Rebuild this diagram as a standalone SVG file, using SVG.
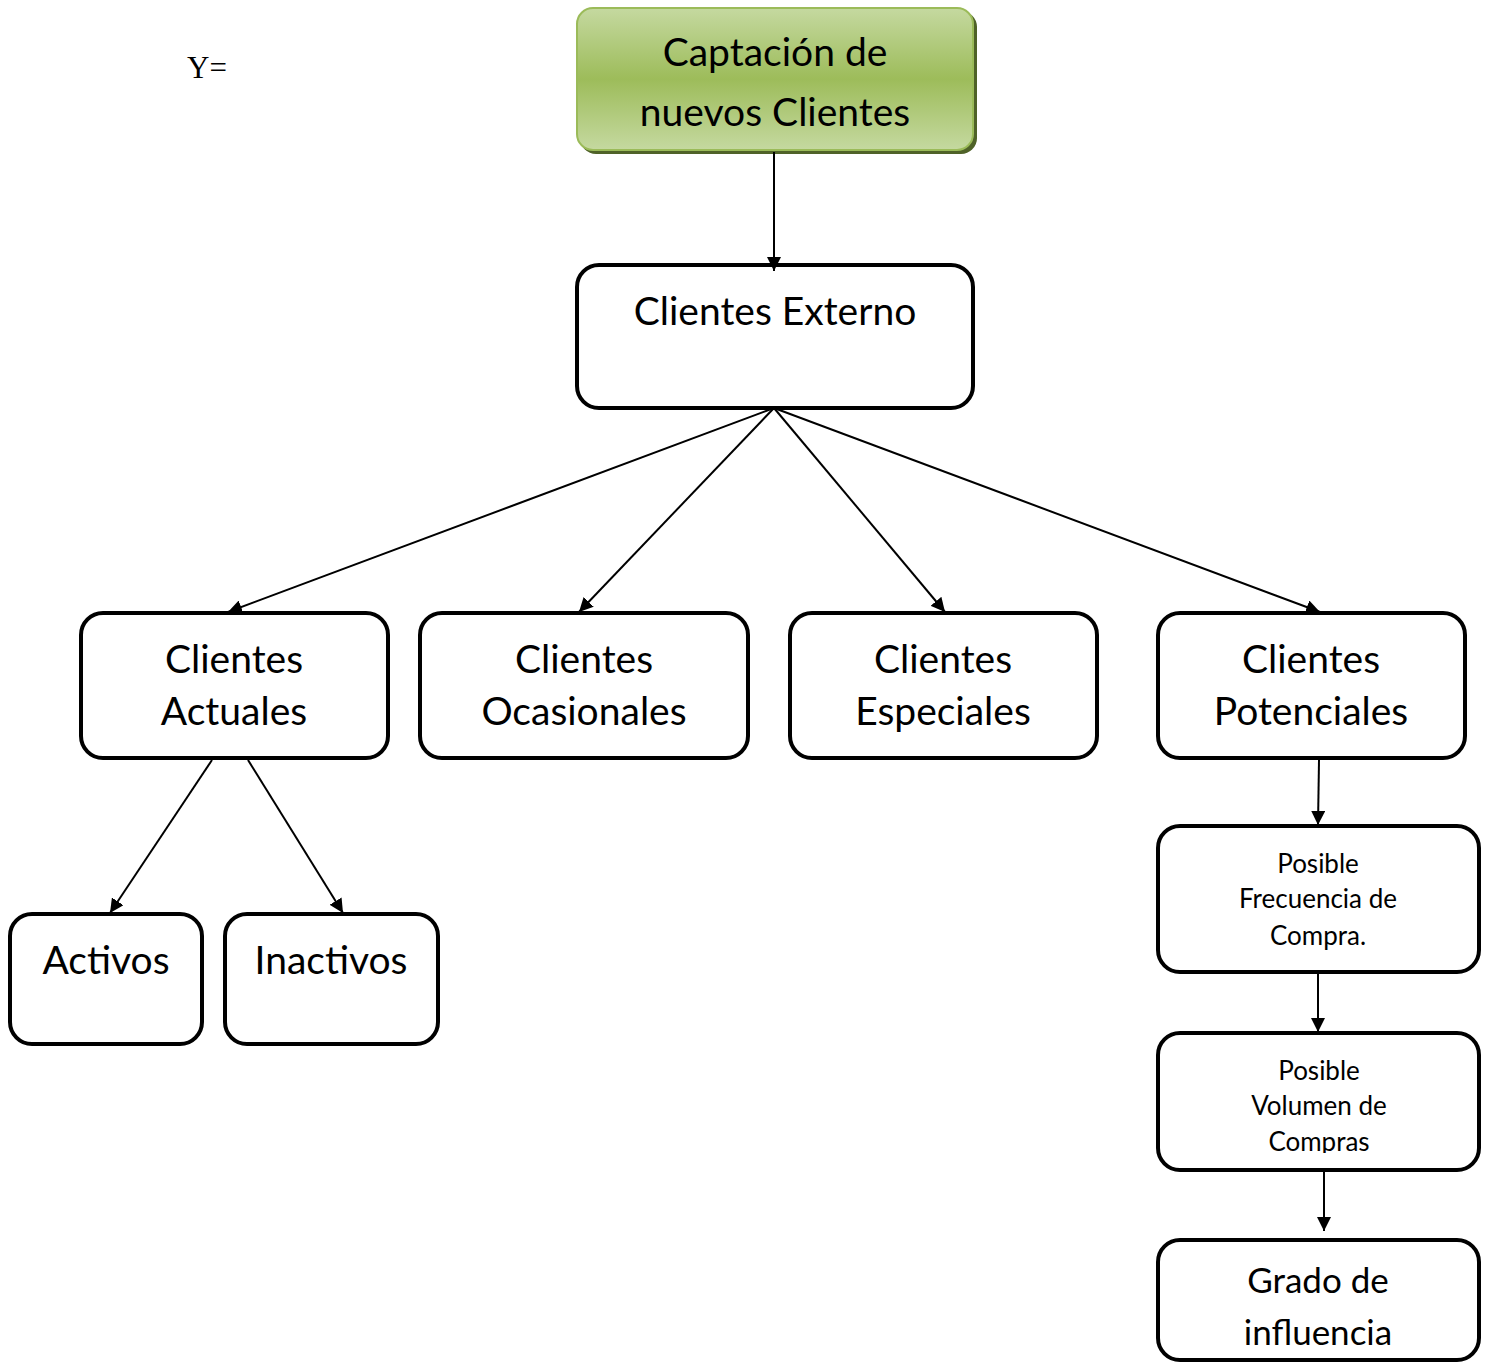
<svg xmlns="http://www.w3.org/2000/svg" width="1485" height="1363" viewBox="0 0 1485 1363">
<style>
.box{fill:#fff;stroke:#000;stroke-width:4}
.t{font-family:Lato,"Open Sans","Liberation Sans",sans-serif;fill:#000;text-anchor:middle}
.big{font-size:39px}
.sm{font-size:26px}
.conn line{stroke:#000;stroke-width:2;marker-end:url(#ah)}
</style>
<defs>
<marker id="ah" viewBox="0 0 10 10" refX="10" refY="5" markerWidth="7" markerHeight="7" orient="auto" markerUnits="strokeWidth">
<path d="M0,0 L10,5 L0,10 z" fill="#000"/>
</marker>
<linearGradient id="g" x1="0" y1="0" x2="0" y2="1">
<stop offset="0" stop-color="#c5d9a0"/>
<stop offset="0.5" stop-color="#9dbc5a"/>
<stop offset="1" stop-color="#c5d9a0"/>
</linearGradient>
<clipPath id="cv"><rect x="1158" y="1033" width="322" height="120"/></clipPath>
</defs>
<rect width="1485" height="1363" fill="#fff"/>
<text x="187" y="78" font-family="Liberation Serif,serif" font-size="31">Y=</text>
<g id="captacion">
<rect x="580" y="11" width="397" height="143" rx="16" fill="#4f6228"/>
<rect x="577" y="8" width="396" height="142" rx="16" fill="url(#g)" stroke="#9bbb59" stroke-width="2"/>
<text class="t big" x="775" y="66">Captación de</text>
<text class="t big" x="775" y="126">nuevos Clientes</text>
</g>
<g id="externo">
<rect class="box" x="577" y="265" width="396" height="143" rx="22"/>
<text class="t big" x="775" y="325">Clientes Externo</text>
</g>
<g id="actuales">
<rect class="box" x="81" y="613" width="307" height="145" rx="22"/>
<text class="t big" x="234" y="673">Clientes</text>
<text class="t big" x="234" y="725">Actuales</text>
</g>
<g id="ocasionales">
<rect class="box" x="420" y="613" width="328" height="145" rx="22"/>
<text class="t big" x="584" y="673">Clientes</text>
<text class="t big" x="584" y="725">Ocasionales</text>
</g>
<g id="especiales">
<rect class="box" x="790" y="613" width="307" height="145" rx="22"/>
<text class="t big" x="943" y="673">Clientes</text>
<text class="t big" x="943" y="725">Especiales</text>
</g>
<g id="potenciales">
<rect class="box" x="1158" y="613" width="307" height="145" rx="22"/>
<text class="t big" x="1311" y="673">Clientes</text>
<text class="t big" x="1311" y="725">Potenciales</text>
</g>
<g id="activos">
<rect class="box" x="10" y="914" width="192" height="130" rx="22"/>
<text class="t big" x="106" y="974">Activos</text>
</g>
<g id="inactivos">
<rect class="box" x="225" y="914" width="213" height="130" rx="22"/>
<text class="t big" x="331" y="974">Inactivos</text>
</g>
<g id="frecuencia">
<rect class="box" x="1158" y="826" width="321" height="146" rx="22"/>
<text class="t sm" x="1318" y="873">Posible</text>
<text class="t sm" x="1318" y="908">Frecuencia de</text>
<text class="t sm" x="1318" y="945">Compra.</text>
</g>
<g id="volumen">
<rect class="box" x="1158" y="1033" width="321" height="137" rx="22"/>
<g clip-path="url(#cv)">
<text class="t sm" x="1319" y="1080">Posible</text>
<text class="t sm" x="1319" y="1115">Volumen de</text>
<text class="t sm" x="1319" y="1151">Compras</text>
</g>
</g>
<g id="grado">
<rect class="box" x="1158" y="1240" width="321" height="120" rx="22"/>
<text class="t" font-size="35" x="1318" y="1293">Grado de</text>
<text class="t" font-size="35" x="1318" y="1345">influencia</text>
</g>
<g class="conn">
<line x1="774" y1="152" x2="774" y2="271"/>
<line x1="774" y1="408" x2="228" y2="612"/>
<line x1="774" y1="408" x2="579" y2="612"/>
<line x1="774" y1="408" x2="945" y2="612"/>
<line x1="774" y1="408" x2="1320" y2="612"/>
<line x1="212" y1="760" x2="110" y2="913"/>
<line x1="248" y1="760" x2="343" y2="913"/>
<line x1="1319" y1="760" x2="1318" y2="825"/>
<line x1="1318" y1="972" x2="1318" y2="1032"/>
<line x1="1324" y1="1170" x2="1324" y2="1231"/>
</g>
</svg>
